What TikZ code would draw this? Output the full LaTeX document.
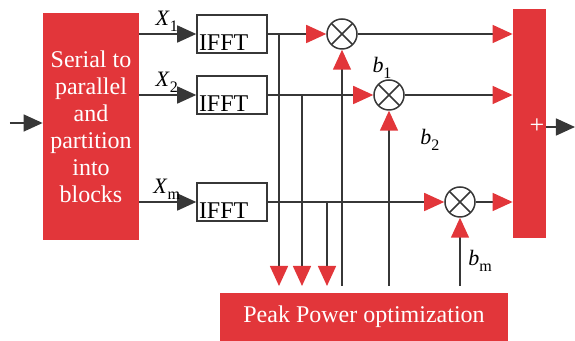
\documentclass[tikz,border=0pt]{standalone}
\usepackage{fontspec}
\setmainfont{Liberation Serif}
\definecolor{BlockRed}{RGB}{226,54,58}
\definecolor{LineGray}{RGB}{55,55,55}
\usetikzlibrary{arrows.meta, calc}
\newcommand{\symsub}[2]{\textit{#1}\raisebox{-0.55ex}{\fontsize{8}{8}\selectfont #2}}

\begin{document}
\begin{tikzpicture}[x=0.5pt, y=-0.5pt,
    redblock/.style={fill=BlockRed, text=white, inner sep=0pt},
    fftbox/.style={draw=LineGray, fill=white, line width=0.75pt, text width=33pt, text height=17pt, text depth=0pt, inner sep=1pt, align=left, font=\fontsize{12}{14}\selectfont},
    mixer/.style={circle, draw=LineGray, line width=0.75pt, minimum size=15pt, inner sep=0pt,
      path picture={\draw[LineGray, line width=0.75pt] (path picture bounding box.north west) -- (path picture bounding box.south east) (path picture bounding box.north east) -- (path picture bounding box.south west);}},
    wire/.style={draw=LineGray, line width=0.75pt},
    darrow/.style={wire, -{Triangle[length=9.5pt, width=8.5pt, color=LineGray]}},
    rarrow/.style={wire, -{Triangle[length=10pt, width=9pt, color=BlockRed]}},
    lab/.style={font=\fontsize{11}{13}\selectfont, inner sep=1pt}]
  \useasboundingbox (0,0) rectangle (575,341);

  % blocks
  \node[redblock, minimum width=48pt, minimum height=113.5pt, align=center,
        font=\fontsize{12}{13.5}\selectfont] (sp) at (91,126.5)
        {Serial to\\parallel\\and\\partition\\into\\blocks};
  \node[redblock, minimum width=16.5pt, minimum height=114.5pt] (sum) at (529.5,123.5) {};
  \node[text=white, font=\fontsize{13}{13}\selectfont, inner sep=0pt] (plus) at (537,126) {+};
  \node[redblock, minimum width=144pt, minimum height=24pt,
        font=\fontsize{12}{14}\selectfont] (ppo) at (364,317) {Peak Power optimization};

  % IFFT branches
  \node[fftbox] (ifft1) at (232,34) {IFFT};
  \node[fftbox] (ifft2) at (232,95) {IFFT};
  \node[fftbox] (ifft3) at (232,202) {IFFT};

  % multipliers
  \node[mixer] (m1) at (342,34) {};
  \node[mixer] (m2) at (389,95) {};
  \node[mixer] (m3) at (460,202) {};

  % ends of the lines over the optimizer
  \coordinate (d1) at (279,286);
  \coordinate (d2) at (302,286);
  \coordinate (d3) at (327,286);
  \coordinate (u1) at (342,286);
  \coordinate (u2) at (389,286);
  \coordinate (u3) at (460,286);
  \coordinate (in) at (10,123);
  \coordinate (out) at (575,127);

  % input and output
  \draw[darrow] (in) -- (in -| sp.west);
  \draw[darrow] (sum.east |- out) -- (out);

  \draw[darrow] (sp.east |- ifft1) -- node[lab, above, pos=0.48] (x1) {\symsub{X}{1}} (ifft1.west);
  \draw[darrow] (sp.east |- ifft2) -- node[lab, above, pos=0.48] (x2) {\symsub{X}{2}} (ifft2.west);
  \draw[darrow] (sp.east |- ifft3) -- node[lab, above, pos=0.48] (xm) {\symsub{X}{m}} (ifft3.west);

  \draw[rarrow] (ifft1.east) -- (m1.west);
  \draw[rarrow] (ifft2.east) -- (m2.west);
  \draw[rarrow] (ifft3.east) -- (m3.west);

  \draw[rarrow] (m1.east) -- (m1.east -| sum.west);
  \draw[rarrow] (m2.east) -- (m2.east -| sum.west);
  \draw[rarrow] (m3.east) -- (m3.east -| sum.west);

  % taps down to the optimizer
  \draw[rarrow] (d1 |- ifft1) -- (d1);
  \draw[rarrow] (d2 |- ifft2) -- (d2);
  \draw[rarrow] (d3 |- ifft3) -- (d3);

  % weights back up
  \draw[rarrow] (u1) -- (m1.south);
  \draw[rarrow] (u2) -- (m2.south);
  \draw[rarrow] (u3) -- (m3.south);

  \node[lab] (b1) at (382,68) {\symsub{b}{1}};
  \node[lab] (b2) at (430,140) {\symsub{b}{2}};
  \node[lab] (bm) at (480,261) {\symsub{b}{m}};
\end{tikzpicture}
\end{document}
